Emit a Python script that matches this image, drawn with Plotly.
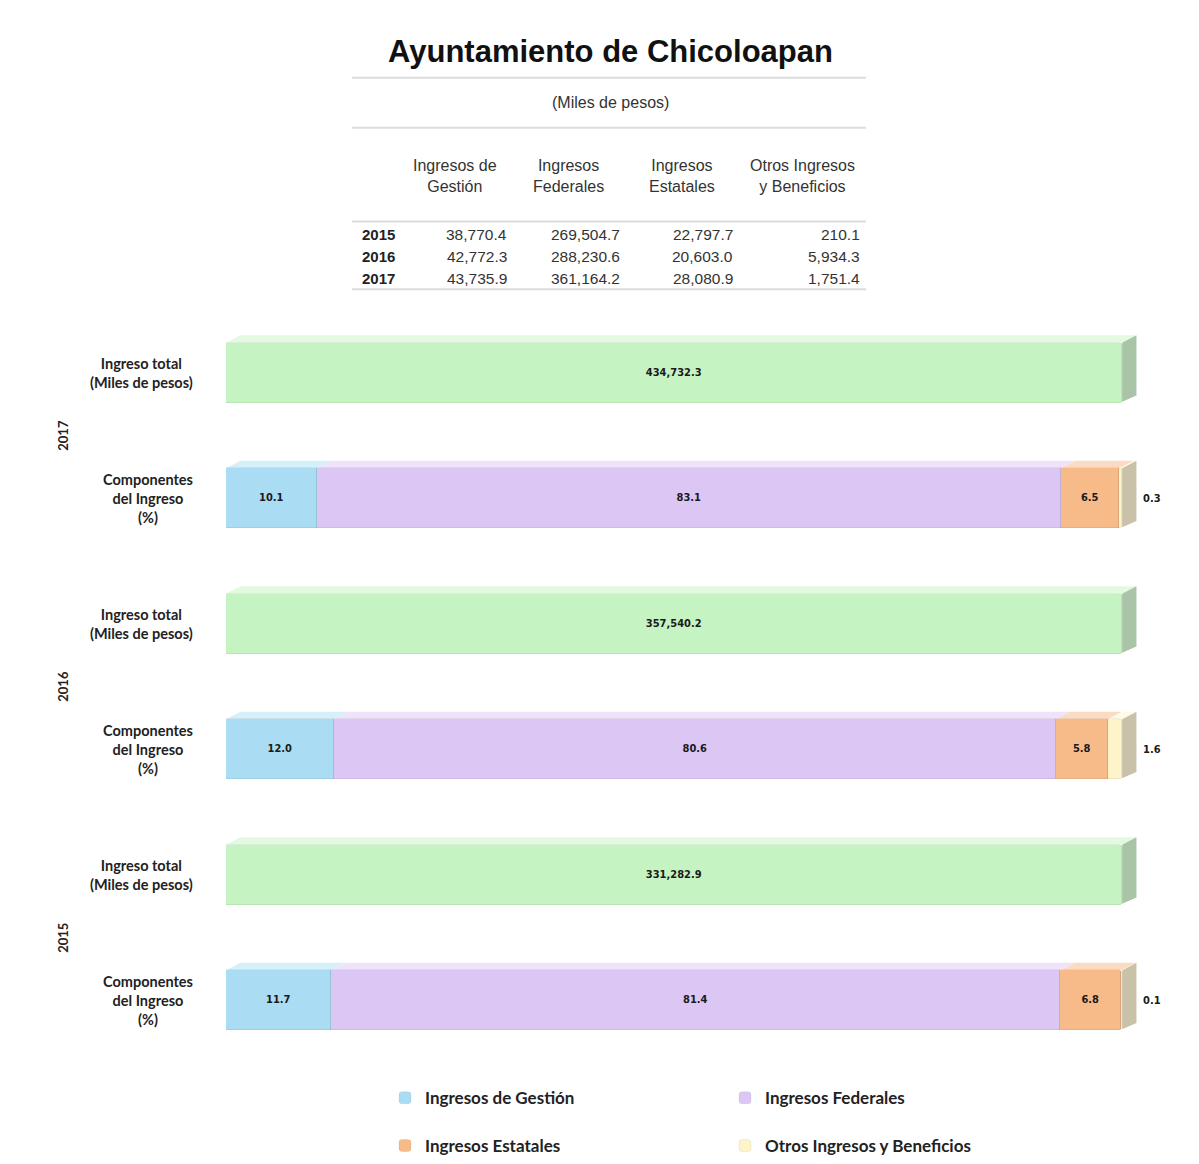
import plotly.graph_objects as go

# Datos (miles de pesos)
years = ["2015", "2016", "2017"]
gestion = [38770.4, 42772.3, 43735.9]
federales = [269504.7, 288230.6, 361164.2]
estatales = [22797.7, 20603.0, 28080.9]
otros = [210.1, 5934.3, 1751.4]
totales = [331282.9, 357540.2, 434732.3]

# Componentes del ingreso (%)
pct_gestion = [11.7, 12.0, 10.1]
pct_federales = [81.4, 80.6, 83.1]
pct_estatales = [6.8, 5.8, 6.5]
pct_otros = [0.1, 1.6, 0.3]

headers = ["Ingresos de<br>Gestión", "Ingresos<br>Federales", "Ingresos<br>Estatales", "Otros Ingresos<br>y Beneficios"]
series_names = ["Ingresos de Gestión", "Ingresos Federales", "Ingresos Estatales", "Otros Ingresos y Beneficios"]

W, H = 1199, 1164
def px(x):
    return x / W
def py(y):
    return 1 - y / H

body = ["#aadcf3", "#dcc6f4", "#f7bb8a", "#fdf5c9"]
tops = ["#d6f0fb", "#efe3fb", "#fbdcc2", "#fefae8"]
green, green_top, green_side = "#c6f3c2", "#e3fae0", "#a9c4a6"
cream_side = "#c9c1a8"

LABEL_FONT = "Liberation Sans Narrow, DejaVu Sans Condensed, Roboto, sans-serif"
CAL = "Lato, Open Sans, sans-serif"
ARIAL = "Liberation Sans, Arial, sans-serif"

BW = 0.48
HH = BW / 2
DX, DY = 1.6, 0.06

comp_y = [2 * i for i in range(len(years))]
total_y = [2 * i + 1 for i in range(len(years))]

fig = go.Figure()

# barra de ingreso total (cada total es el 100% de sí mismo)
pct_total = [t / t * 100 for t in totales]
fig.add_trace(go.Bar(
    y=total_y, x=pct_total, orientation="h", width=BW,
    marker=dict(color=green, line=dict(color="rgba(0,0,0,0.12)", width=0.5), cornerradius=3),
    text=[f"{t:,.1f}" for t in totales], textposition="inside", insidetextanchor="middle",
    textfont=dict(family=LABEL_FONT, size=11, color="#1a1a1a", weight="bold"),
    showlegend=False, hoverinfo="skip",
))

pcts = [pct_gestion, pct_federales, pct_estatales, pct_otros]
legend_ids = ["legend", "legend", "legend2", "legend2"]
for k, (name, vals) in enumerate(zip(series_names, pcts)):
    fig.add_trace(go.Bar(
        y=comp_y, x=vals, orientation="h", width=BW, name=name,
        marker=dict(color=body[k], line=dict(color="rgba(0,0,0,0.12)", width=0.5), cornerradius=3),
        text=[f"{v:.1f}" for v in vals] if k < 3 else None,
        textposition="inside" if k < 3 else "none", insidetextanchor="middle",
        textangle=0,
        textfont=dict(family=LABEL_FONT, size=11, color="#1a1a1a", weight="bold"),
        legend=legend_ids[k], hoverinfo="skip",
    ))

shapes = []
def top_face(b, L, yc, color):
    yt = yc + HH
    shapes.append(dict(type="path", xref="x", yref="y", layer="below",
                       path=f"M {b},{yt} L {b+L},{yt} L {b+L+DX},{yt+DY} L {b+DX},{yt+DY} Z",
                       fillcolor=color, line=dict(width=0)))
def side_face(e, yc, color):
    yt, yb = yc + HH, yc - HH
    shapes.append(dict(type="path", xref="x", yref="y", layer="below",
                       path=f"M {e},{yb+0.01} L {e},{yt} L {e+DX},{yt+DY} L {e+DX},{yb+DY} Z",
                       fillcolor=color, line=dict(width=0)))

for i in range(len(years)):
    top_face(0, pct_total[i], total_y[i], green_top)
    side_face(pct_total[i], total_y[i], green_side)
    base = 0
    for k in range(4):
        v = pcts[k][i]
        top_face(base, v, comp_y[i], tops[k])
        base += v
    side_face(base, comp_y[i], cream_side)

# líneas de la tabla
for yl in [78, 128, 222, 290]:
    shapes.append(dict(type="line", xref="paper", yref="paper",
                       x0=px(352), x1=px(866), y0=py(yl), y1=py(yl),
                       line=dict(color="#dcdcdc", width=2)))

ann = []
ann.append(dict(text="<b>Ayuntamiento de Chicoloapan</b>", x=px(610), y=py(52),
                font=dict(family=ARIAL, size=31, color="#111")))
ann.append(dict(text="(Miles de pesos)", x=px(610), y=py(103),
                font=dict(family=ARIAL, size=16, color="#333")))
hdr_x = [455, 568, 682, 802]
for hx, h in zip(hdr_x, headers):
    ann.append(dict(text=h, x=px(hx), y=py(176), align="center",
                    font=dict(family=ARIAL, size=16, color="#333")))
val_right = [509, 622, 735, 862]
row_y = [235, 257, 279]
for i, yr in enumerate(years):
    ann.append(dict(text=f"<b>{yr}</b>", x=px(360), y=py(row_y[i]), xanchor="left",
                    font=dict(family=ARIAL, size=15, color="#222")))
    for c, serie in enumerate([gestion, federales, estatales, otros]):
        ann.append(dict(text=f"{serie[i]:,.1f}", x=px(val_right[c]), y=py(row_y[i]), xanchor="right",
                        font=dict(family=ARIAL, size=15.5, color="#333")))

# etiquetas de filas y años
for i, yr in enumerate(years):
    ann.append(dict(text="Ingreso total<br>(Miles de pesos)", x=px(141), xref="paper", y=total_y[i], yref="y",
                    align="center", font=dict(family=CAL, size=14.5, color="#222", weight="bold")))
    ann.append(dict(text="Componentes<br>del Ingreso<br>(%)", x=px(148), xref="paper", y=comp_y[i], yref="y",
                    align="center", font=dict(family=CAL, size=14.5, color="#222", weight="bold")))
    ann.append(dict(text=f"<b>{yr}</b>", x=px(63), xref="paper", y=comp_y[i] + 0.5, yref="y",
                    textangle=-90, font=dict(family=CAL, size=13, color="#222")))
    # valor del último componente (fuera de la barra)
    end = pct_gestion[i] + pct_federales[i] + pct_estatales[i] + pct_otros[i]
    ann.append(dict(text=f"{pct_otros[i]:.1f}", x=end, xref="x", y=comp_y[i], yref="y",
                    xshift=30, font=dict(family=LABEL_FONT, size=11, color="#1a1a1a", weight="bold")))

for a in ann:
    a.setdefault("xref", "paper")
    a.setdefault("yref", "paper")
    a.setdefault("xanchor", "center")
    a.setdefault("yanchor", "middle")
    a["showarrow"] = False

legend_font = dict(family=CAL, size=17, color="#222", weight="bold")
fig.update_layout(
    width=W, height=H,
    margin=dict(l=0, r=0, t=0, b=0),
    paper_bgcolor="white", plot_bgcolor="white",
    barmode="stack", bargap=0,
    xaxis=dict(range=[0, 103], domain=[px(226), px(1149)], visible=False, fixedrange=True),
    yaxis=dict(range=[-0.5, 5.5], domain=[py(1066), py(311)], visible=False, fixedrange=True),
    shapes=shapes, annotations=ann,
    legend=dict(orientation="h", x=px(385), y=py(1101), yanchor="middle", xanchor="left",
                entrywidth=295, itemwidth=30, font=legend_font, traceorder="normal"),
    legend2=dict(orientation="h", x=px(385), y=py(1149), yanchor="middle", xanchor="left",
                 entrywidth=295, itemwidth=30, font=legend_font, traceorder="normal"),
)

fig.write_html("out.html", config={"displayModeBar": False},
               post_script="document.body.style.margin='0';")
